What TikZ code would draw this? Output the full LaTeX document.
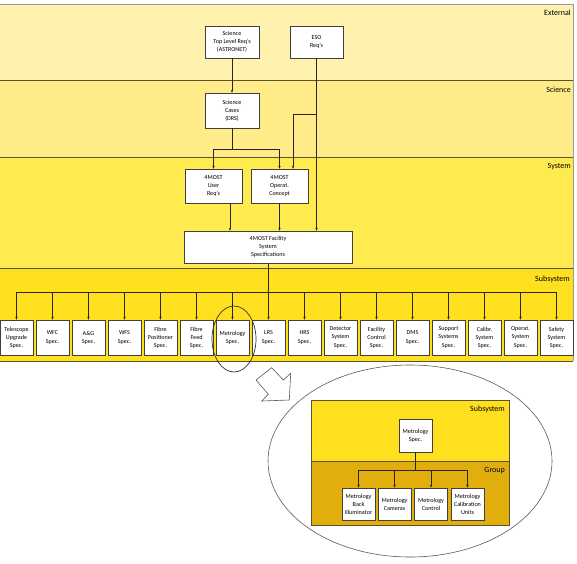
\documentclass[tikz,border=0pt]{standalone}
\usepackage{fontspec}
\setmainfont{Carlito}
\usetikzlibrary{arrows.meta,positioning}

\definecolor{extcol}{HTML}{FFF1AE}
\definecolor{scicol}{HTML}{FFEC88}
\definecolor{syscol}{HTML}{FFEB50}
\definecolor{subcol}{HTML}{FFE01E}
\definecolor{grpcol}{HTML}{E2AE0E}
\definecolor{edgecol}{HTML}{5C5230}

\tikzset{
	spec/.style={draw=black!75, fill=white, line width=0.6pt, align=center, inner sep=0pt,
		font=\fontsize{6.1}{8.1}\selectfont, minimum width=#1},
	spec/.default=33pt,
	conn/.style={line width=0.8pt, black!85, -{Stealth[length=3pt,width=2.4pt]}},
	bus/.style={line width=0.8pt, black!85},
	bandline/.style={line width=0.9pt, edgecol},
	bandlabel/.style={anchor=east, inner sep=0pt, font=\fontsize{8}{9}\selectfont}
}

\begin{document}
\begin{tikzpicture}[x=1pt,y=-1pt]
	%%%%% START %%%%%
	\useasboundingbox (0,0) rectangle (577,563);
	
	% bands
	\fill[extcol] (0,4) rectangle (573,80);
	\fill[scicol] (0,80) rectangle (573,157);
	\fill[syscol] (0,157) rectangle (573,268);
	\fill[subcol] (0,268) rectangle (573,361);
	\draw[line width=0.8pt, black!40] (0,4) -- (573,4) -- (573,361);
	\draw[bandline] (0,80) -- (573,80);
	\draw[bandline] (0,157) -- (573,157);
	\draw[bandline] (0,268) -- (573,268);
	\draw[bandline] (0,361) -- (573,361);
	
	\node[bandlabel] (lext) at (571,13) {External};
	\node[bandlabel] (lsci) at (571,90) {Science};
	\node[bandlabel] (lsys) at (571,167) {System};
	\node[bandlabel] (lsub) at (570,279) {Subsystem};
	
	% requirement boxes
	\node[spec=54pt, minimum height=32pt] (sctop) at (232,42) {Science\\Top Level Req's\\(ASTRONET)};
	\node[spec=53pt, minimum height=32pt] (eso) at (316.5,42) {ESO\\Req's};
	\node[spec=54pt, minimum height=35pt] (scicases) at (232,110.5) {Science\\Cases\\(DRS)};
	\node[spec=57pt, minimum height=34pt] (userreq) at (213.5,186) {4MOST\\User\\Req's};
	\node[spec=57pt, minimum height=34pt] (operat) at (279.5,186) {4MOST\\Operat.\\Concept};
	\node[spec=168pt, minimum height=32pt] (facility) at (268,247) {4MOST Facility\\System\\Specifications};
	
	\coordinate (esoj) at (316.5,114);
	\coordinate (scij) at (232,149);
	\coordinate (bus) at (268,292);
	
	\draw[conn] (sctop.south) -- (scicases.north);
	\draw[conn] (eso.south) -- (eso.south |- facility.north);
	\draw[conn] (esoj) -| ([xshift=13.5pt]operat.north);
	\draw[bus] (scicases.south) -- (scij);
	\draw[conn] (scij) -| (userreq.north);
	\draw[conn] (scij) -| (operat.north);
	\draw[conn] ([xshift=16.5pt]userreq.south) -- ([xshift=16.5pt]userreq.south |- facility.north);
	\draw[conn] (operat.south) -- (operat.south |- facility.north);
	
	% subsystem specs
	\foreach \txt [count=\i from 0] in {{Telescope\\Upgrade\\Spec.}, {WFC\\Spec.}, {A\&G\\Spec.},
		{WFS\\Spec.}, {Fibre\\Positioner\\Spec.}, {Fibre\\Feed\\Spec.}, {Metrology\\Spec.},
		{LRS\\Spec.}, {HRS\\Spec.}, {Detector\\System\\Spec.}, {Facility\\Control\\Spec.},
		{DMS\\Spec.}, {Support\\Systems\\Spec.}, {Calibr.\\System\\Spec.},
		{Operat.\\System\\Spec.}, {Safety\\System\\Spec.}}
		\node[spec, minimum height=35pt] (s\i) at (16.5+36*\i,337.5) {\txt};
	
	\draw[bus] (facility.south) -- (bus);
	\draw[bus] (s0.north |- bus) -- (s15.north |- bus);
	\foreach \i in {0,...,15}
		\draw[conn] (s\i.north |- bus) -- (s\i.north);
	
	% highlight of metrology
	\draw[line width=0.7pt, black!80] ([xshift=1.5pt,yshift=-1.5pt]s6.center) ellipse (22pt and 33pt);
	
	\draw[fill=white, draw=black!65, line width=0.6pt] (271.7,367.7) -- (283.3,380) -- (290.7,373.3)
		-- (289.3,400) -- (261.7,401) -- (268.3,394.3) -- (256,380) -- cycle;
	
	% zoomed group view
	\draw[line width=0.6pt, black!65] (410,461) ellipse (142pt and 96pt);
	\fill[subcol] (311,400) rectangle (509,461);
	\fill[grpcol] (311,461) rectangle (509,525);
	\draw[bandline] (311,400) rectangle (509,525);
	\draw[bandline] (311,461) -- (509,461);
	\node[bandlabel] (gsub) at (505,409) {Subsystem};
	\node[bandlabel] (ggrp) at (505,471) {Group};
	
	\node[spec, minimum height=33pt] (metro) at (415.5,435.5) {Metrology\\Spec.};
	\node[spec, minimum height=32pt] (g0) at (358.5,504) {Metrology\\Back\\Illuminator};
	\node[spec, minimum height=32pt] (g1) at (394.5,504) {Metrology\\Cameras};
	\node[spec, minimum height=32pt] (g2) at (431,504) {Metrology\\Control};
	\node[spec, minimum height=32pt] (g3) at (467.5,504) {Metrology\\Calibration\\Units};
	
	\coordinate (gbus) at (415.5,470);
	\draw[bus] (metro.south) -- (gbus);
	\draw[bus] (g0.north |- gbus) -- (g3.north |- gbus);
	\foreach \i in {0,...,3}
		\draw[conn] (g\i.north |- gbus) -- (g\i.north);
	
	%%%%% END %%%%%
\end{tikzpicture}
\end{document}
